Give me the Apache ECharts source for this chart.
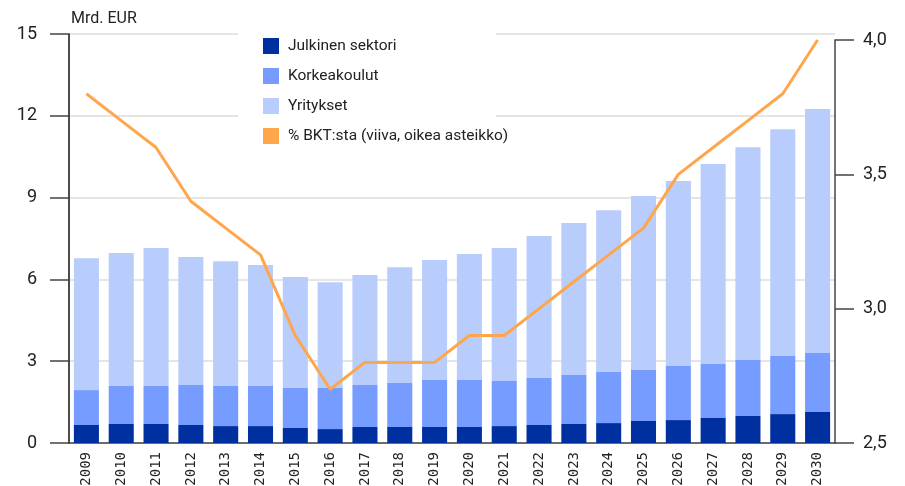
<!DOCTYPE html>
<html>
<head>
<meta charset="utf-8">
<script src="https://cdn.jsdelivr.net/npm/echarts@6/dist/echarts.min.js"></script>
<style>
  html, body { margin: 0; padding: 0; background: #ffffff; }
  #chart { width: 905px; height: 486px; }
</style>
</head>
<body>
<div id="chart"></div>
<script>
const years = ['2009', '2010', '2011', '2012', '2013', '2014', '2015', '2016', '2017', '2018', '2019',
    '2020', '2021', '2022', '2023', '2024', '2025', '2026', '2027', '2028', '2029', '2030'];
const julkinen = [0.66, 0.70, 0.70, 0.66, 0.62, 0.62, 0.55, 0.51, 0.59, 0.59, 0.59,
    0.59, 0.62, 0.66, 0.70, 0.73, 0.81, 0.84, 0.92, 0.99, 1.06, 1.14];
const korkeakoulut = [1.28, 1.39, 1.39, 1.47, 1.47, 1.47, 1.47, 1.51, 1.54, 1.61, 1.72,
    1.72, 1.65, 1.72, 1.79, 1.87, 1.87, 1.98, 1.98, 2.05, 2.13, 2.16];
const yritykset = [4.84, 4.88, 5.06, 4.69, 4.58, 4.44, 4.07, 3.88, 4.03, 4.25, 4.40,
    4.62, 4.88, 5.21, 5.58, 5.94, 6.38, 6.79, 7.33, 7.81, 8.32, 8.95];
const bktOsuus = [3.8, 3.7, 3.6, 3.4, 3.3, 3.2, 2.9, 2.7, 2.8, 2.8, 2.8,
    2.9, 2.9, 3.0, 3.1, 3.2, 3.3, 3.5, 3.6, 3.7, 3.8, 4.0];

const font = 'Roboto';
const chart = echarts.init(document.getElementById('chart'));

const option = {
    backgroundColor: '#ffffff',
    animation: false,
    title: {
        text: 'Mrd. EUR',
        left: 66,
        top: 6,
        textStyle: { fontFamily: font, fontSize: 16, fontWeight: 'normal', color: '#222' }
    },
    legend: {
        left: 258,
        top: 33,
        orient: 'vertical',
        itemWidth: 16,
        itemHeight: 16,
        itemGap: 14,
        icon: 'rect',
        data: ['Julkinen sektori', 'Korkeakoulut', 'Yritykset', '% BKT:sta (viiva, oikea asteikko)'],
        textStyle: { fontFamily: font, fontSize: 15.5, color: '#222', padding: [0, 0, 0, 4] }
    },
    // white box behind the legend hides the grid lines
    graphic: [{
        type: 'rect',
        z: 1,
        shape: { x: 238, y: 22, width: 258, height: 140 },
        style: { fill: '#ffffff' }
    }],
    grid: [
        { left: 69, right: 70, top: 34, bottom: 43, outerBoundsMode: 'none' },
        { left: 69, right: 70, top: 40, bottom: 43, outerBoundsMode: 'none' }
    ],
    xAxis: [{
        type: 'category',
        gridIndex: 0,
        data: years,
        axisLine: { lineStyle: { color: '#444', width: 1.5 } },
        axisTick: { show: false },
        axisLabel: {
            rotate: 90,
            margin: 9,
            fontFamily: 'DejaVu Sans Mono',
            fontSize: 14,
            color: '#222'
        }
    }, {
        type: 'category',
        gridIndex: 1,
        data: years,
        show: false
    }],
    yAxis: [{
        type: 'value',
        gridIndex: 0,
        min: 0,
        max: 15,
        interval: 3,
        axisLine: { show: true, lineStyle: { color: '#111', width: 1.5 } },
        axisTick: { show: true, inside: false, length: 19, lineStyle: { color: '#444', width: 1.5 } },
        axisLabel: { margin: 32, fontFamily: font, fontSize: 18, color: '#222' },
        splitLine: { lineStyle: { color: '#dcdcdc', width: 1.5 } }
    }, {
        type: 'value',
        gridIndex: 1,
        position: 'right',
        min: 2.5,
        max: 4.0,
        interval: 0.5,
        axisLine: { show: true, lineStyle: { color: '#444', width: 1.5 } },
        axisTick: { show: true, length: 19, lineStyle: { color: '#444', width: 1.5 } },
        axisLabel: {
            margin: 28,
            fontFamily: font,
            fontSize: 18,
            color: '#222',
            formatter: v => v.toFixed(1).replace('.', ',')
        },
        splitLine: { show: false }
    }],
    series: [{
        name: 'Julkinen sektori',
        type: 'bar',
        stack: 'total',
        barCategoryGap: '28%',
        itemStyle: { color: '#0030a0' },
        data: julkinen
    }, {
        name: 'Korkeakoulut',
        type: 'bar',
        stack: 'total',
        barCategoryGap: '28%',
        itemStyle: { color: '#779cff' },
        data: korkeakoulut
    }, {
        name: 'Yritykset',
        type: 'bar',
        stack: 'total',
        barCategoryGap: '28%',
        itemStyle: { color: '#b9cdfc' },
        data: yritykset
    }, {
        name: '% BKT:sta (viiva, oikea asteikko)',
        type: 'line',
        xAxisIndex: 1,
        yAxisIndex: 1,
        symbol: 'none',
        z: 5,
        lineStyle: { color: '#ffa64d', width: 3 },
        itemStyle: { color: '#ffa64d' },
        data: bktOsuus
    }]
};

chart.setOption(option);
</script>
</body>
</html>
